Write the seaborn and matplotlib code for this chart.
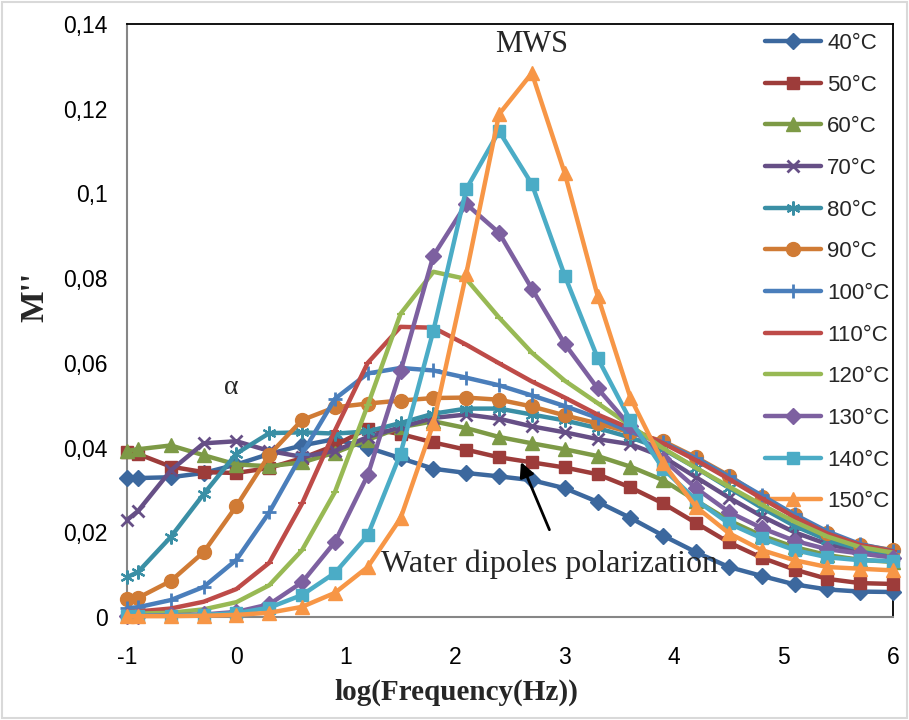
import numpy as np
import pandas as pd
import matplotlib
matplotlib.use("Agg")
import matplotlib.pyplot as plt
import seaborn as sns
from matplotlib.ticker import MultipleLocator, FuncFormatter
from matplotlib.patches import Rectangle

# log(f) grid of the measurements
logf = [-1, -0.9, -0.6, -0.3, 0, 0.3, 0.6, 0.9, 1.2, 1.5, 1.8, 2.1, 2.4,
        2.7, 3.0, 3.3, 3.6, 3.9, 4.2, 4.5, 4.8, 5.1, 5.4, 5.7, 6.0]

temps = ["40°C", "50°C", "60°C", "70°C", "80°C", "90°C",
         "100°C", "110°C", "120°C", "130°C", "140°C", "150°C"]

m40 = [0.0327, 0.0328, 0.0330, 0.0340, 0.0360, 0.0385, 0.0405, 0.0420, 0.0400, 0.0375, 0.0350, 0.0340, 0.0332,
       0.0323, 0.0304, 0.0272, 0.0234, 0.0192, 0.0153, 0.0118, 0.0097, 0.0077, 0.0065, 0.0060, 0.0059]
m50 = [0.0390, 0.0385, 0.0355, 0.0342, 0.0340, 0.0352, 0.0375, 0.0405, 0.0445, 0.0432, 0.0412, 0.0395, 0.0377,
       0.0365, 0.0353, 0.0337, 0.0306, 0.0268, 0.0222, 0.0176, 0.0140, 0.0112, 0.0090, 0.0080, 0.0078]
m60 = [0.0392, 0.0396, 0.0405, 0.0382, 0.0360, 0.0356, 0.0365, 0.0388, 0.0418, 0.0448, 0.0462, 0.0446, 0.0425,
       0.0410, 0.0396, 0.0380, 0.0355, 0.0323, 0.0275, 0.0228, 0.0192, 0.0165, 0.0146, 0.0135, 0.0130]
m70 = [0.0229, 0.0250, 0.0346, 0.0410, 0.0415, 0.0392, 0.0378, 0.0392, 0.0425, 0.0448, 0.0470, 0.0478, 0.0468,
       0.0450, 0.0436, 0.0420, 0.0408, 0.0378, 0.0330, 0.0282, 0.0238, 0.0200, 0.0172, 0.0155, 0.0145]
m80 = [0.0094, 0.0106, 0.0189, 0.0290, 0.0386, 0.0434, 0.0436, 0.0433, 0.0438, 0.0458, 0.0480, 0.0492, 0.0492,
       0.0478, 0.0464, 0.0446, 0.0424, 0.0396, 0.0352, 0.0305, 0.0258, 0.0215, 0.0182, 0.0160, 0.0150]
m90 = [0.0042, 0.0045, 0.0085, 0.0153, 0.0262, 0.0383, 0.0465, 0.0495, 0.0504, 0.0511, 0.0517, 0.0518, 0.0513,
       0.0497, 0.0476, 0.0457, 0.0436, 0.0415, 0.0377, 0.0334, 0.0283, 0.0240, 0.0198, 0.0170, 0.0158]
m100 = [0.0021, 0.0023, 0.0040, 0.0071, 0.0135, 0.0247, 0.0385, 0.0515, 0.0575, 0.0588, 0.0582, 0.0565, 0.0547,
        0.0523, 0.0498, 0.0470, 0.0437, 0.0412, 0.0375, 0.0332, 0.0287, 0.0242, 0.0202, 0.0172, 0.0156]
m110 = [0.0012, 0.0013, 0.0020, 0.0036, 0.0066, 0.0128, 0.0268, 0.0440, 0.0600, 0.0685, 0.0683, 0.0643, 0.0599,
        0.0556, 0.0518, 0.0478, 0.0445, 0.0410, 0.0370, 0.0326, 0.0280, 0.0236, 0.0197, 0.0170, 0.0155]
m120 = [0.0008, 0.0008, 0.0010, 0.0018, 0.0035, 0.0075, 0.0158, 0.0295, 0.0500, 0.0716, 0.0815, 0.0798, 0.0707,
        0.0624, 0.0558, 0.0505, 0.0452, 0.0398, 0.0352, 0.0308, 0.0265, 0.0225, 0.0190, 0.0165, 0.0152]
m130 = [0.0003, 0.0003, 0.0004, 0.0006, 0.0012, 0.0030, 0.0082, 0.0177, 0.0335, 0.0580, 0.0853, 0.0975, 0.0907,
        0.0775, 0.0645, 0.0540, 0.0450, 0.0372, 0.0304, 0.0248, 0.0210, 0.0180, 0.0160, 0.0150, 0.0140]
m140 = [0.0003, 0.0003, 0.0003, 0.0005, 0.0009, 0.0022, 0.0052, 0.0104, 0.0193, 0.0386, 0.0676, 0.1010, 0.1147,
        0.1022, 0.0806, 0.0612, 0.0464, 0.0350, 0.0276, 0.0221, 0.0186, 0.0158, 0.0141, 0.0134, 0.0132]
m150 = [0.0002, 0.0002, 0.0002, 0.0003, 0.0005, 0.0010, 0.0024, 0.0057, 0.0118, 0.0233, 0.0457, 0.0810, 0.1187,
        0.1284, 0.1048, 0.0759, 0.0518, 0.0363, 0.0260, 0.0198, 0.0158, 0.0134, 0.0118, 0.0114, 0.0110]

series = [m40, m50, m60, m70, m80, m90, m100, m110, m120, m130, m140, m150]

colors = ["#3C689E", "#9D3C3A", "#7D9A46", "#664F86", "#3A8FA5", "#D07B35",
          "#4A7EBB", "#BE4B48", "#98B954", "#7D60A0", "#4BACC6", "#F79646"]
# marker, size, edge width
styles = [("D", 8, 1), ("s", 9, 1), ("^", 10, 1), ("x", 9, 2), ((6, 2, 0), 10, 1.6), ("o", 10, 1),
          ("+", 10, 2), ("_", 6, 1.5), ("_", 6, 1.5), ("D", 8, 1), ("s", 9, 1), ("^", 10, 1)]

df = pd.DataFrame({
    "logf": np.tile(logf, len(temps)),
    "M": np.concatenate(series),
    "T": np.repeat(temps, len(logf)),
})

sns.set_style("white")
plt.rcParams["font.family"] = ["Liberation Sans", "DejaVu Sans"]

fig = plt.figure(figsize=(9.09, 7.2), dpi=100)
ax = fig.add_axes([127 / 909, 1 - 617 / 720, 766 / 909, 593 / 720])

for i, t in enumerate(temps):
    sub = df[df["T"] == t]
    mk, ms, mew = styles[i]
    sns.lineplot(data=sub, x="logf", y="M", ax=ax, color=colors[i], lw=3.2,
                 marker=mk, markersize=ms, markeredgewidth=mew,
                 markeredgecolor=colors[i], markerfacecolor=colors[i],
                 label=t, clip_on=False, zorder=3 + i)

ax.set_xlim(-1, 6)
ax.set_ylim(0, 0.14)
ax.xaxis.set_major_locator(MultipleLocator(1))
ax.xaxis.set_minor_locator(MultipleLocator(0.2))
ax.yaxis.set_major_locator(MultipleLocator(0.02))
ax.yaxis.set_minor_locator(MultipleLocator(0.004))
ax.yaxis.set_major_formatter(FuncFormatter(lambda v, p: f"{v:g}".replace(".", ",")))
ax.xaxis.set_major_formatter(FuncFormatter(lambda v, p: f"{v:g}"))

ax.tick_params(axis="both", which="both", direction="out", color="#868686", width=1.2,
               labelsize=16.5, labelcolor="black")
ax.tick_params(axis="both", which="major", length=6)
ax.tick_params(axis="both", which="minor", length=5)
ax.tick_params(axis="x", which="major", pad=15)
ax.tick_params(axis="y", which="major", pad=8)

for s in ["left", "bottom"]:
    ax.spines[s].set_color("#868686")
    ax.spines[s].set_linewidth(1.5)
for s in ["top", "right"]:
    ax.spines[s].set_color("black")
    ax.spines[s].set_linewidth(1.3)

ax.set_xlabel("log(Frequency(Hz))", fontsize=21, fontweight="bold", family="Liberation Serif")
ax.set_ylabel("M''", fontsize=24, fontweight="bold", family="Liberation Serif")
ax.xaxis.set_label_coords(0.43, -0.104)
ax.yaxis.set_label_coords(-0.10, 0.54)

ax.text(2.70, 0.1352, "MWS", fontsize=22, family="Liberation Serif", ha="center", va="center")
ax.text(-0.05, 0.0542, "α", fontsize=20, family="Liberation Serif", ha="center", va="center")
ax.text(2.86, 0.0125, "Water dipoles polarization", fontsize=23, family="Liberation Serif",
        ha="center", va="center", zorder=20)
ax.annotate("", xy=(2.59, 0.0372), xytext=(2.87, 0.0200),
            arrowprops=dict(arrowstyle="-|>", color="black", lw=2, mutation_scale=22), zorder=20)

leg = ax.legend(loc="upper left", bbox_to_anchor=(0.833, 0.985), frameon=False, fontsize=16,
                handlelength=2.5, handletextpad=0.3, labelspacing=0.93, borderpad=0, borderaxespad=0)
for txt in leg.get_texts():
    txt.set_family(["Liberation Sans", "DejaVu Sans"])

fig.patches.append(Rectangle((0.002, 0.003), 0.996, 0.994, transform=fig.transFigure,
                             fill=False, edgecolor="#d9d9d9", lw=1.5))

fig.savefig("out.png", dpi=100)
